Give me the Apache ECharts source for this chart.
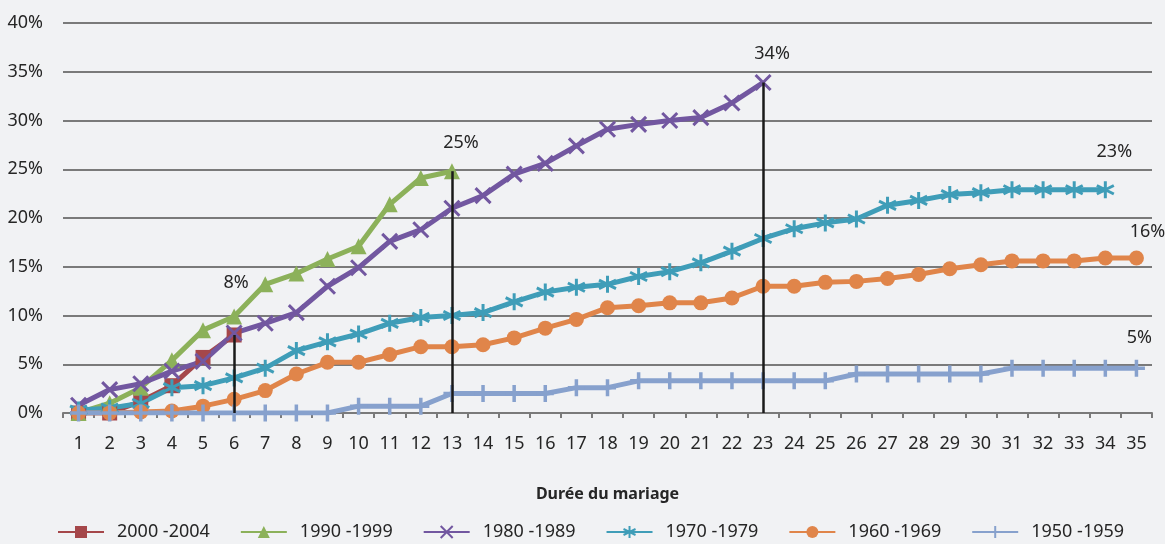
<!DOCTYPE html>
<html style="height: 100%">
<head>
<meta charset="utf-8">
</head>
<body style="height: 100%; margin: 0; background: #f1f2f4">
<div id="container" style="width: 1165px; height: 544px"></div>
<script src="https://cdn.jsdelivr.net/npm/echarts@6/dist/echarts.min.js"></script>
<script type="text/javascript">
// durée du mariage (années)
var durees = [];
for (var i = 1; i <= 35; i++) durees.push(String(i));

var names = ['2000 -2004', '1990 -1999', '1980 -1989', '1970 -1979', '1960 -1969', '1950 -1959'];

// % cumulés de divorces
var v2000 = [0, 0, 1.2, 2.8, 5.7, 8.0];
var v1990 = [0, 1.0, 2.6, 5.4, 8.5, 9.9, 13.2, 14.3, 15.8, 17.1, 21.4, 24.1, 24.8];
var v1980 = [0.8, 2.4, 3.0, 4.3, 5.3, 8.2, 9.2, 10.3, 13.0, 14.9, 17.6, 18.8, 21.0, 22.3, 24.5, 25.6,
  27.4, 29.1, 29.6, 30.0, 30.3, 31.8, 33.9];
var v1970 = [0.3, 0.5, 1.0, 2.6, 2.8, 3.6, 4.6, 6.4, 7.3, 8.1, 9.2, 9.8, 10.0, 10.3, 11.4, 12.4, 12.9,
  13.2, 14.0, 14.5, 15.4, 16.6, 17.9, 18.9, 19.5, 19.9, 21.3, 21.8, 22.4, 22.6, 22.9, 22.9, 22.9, 22.9];
var v1960 = [0, 0, 0.1, 0.2, 0.7, 1.4, 2.3, 4.0, 5.2, 5.2, 6.0, 6.8, 6.8, 7.0, 7.7, 8.7, 9.6, 10.8,
  11.0, 11.3, 11.3, 11.8, 13.0, 13.0, 13.4, 13.5, 13.8, 14.2, 14.8, 15.2, 15.6, 15.6, 15.6, 15.9, 15.9];
var v1950 = [0, 0, 0, 0, 0, 0, 0, 0, 0, 0.7, 0.7, 0.7, 2.0, 2.0, 2.0, 2.0, 2.6, 2.6, 3.3, 3.3, 3.3,
  3.3, 3.3, 3.3, 3.3, 4.0, 4.0, 4.0, 4.0, 4.0, 4.6, 4.6, 4.6, 4.6, 4.6];

// étiquettes de fin
var endLabels = ['8%', '25%', '34%', '23%', '16%', '5%'];

var colors = ['#a5474a', '#8cb15a', '#7257a0', '#3f9db8', '#e0854a', '#87a1cd'];

var dom = document.getElementById('container');
var myChart = echarts.init(dom);

var FONT = 'Noto Sans';

function withEnd(values, text, offset) {
  return values.map(function (v, i) {
    if (i !== values.length - 1) return v;
    return {
      value: v,
      label: {
        show: true, position: 'top', formatter: text, offset: offset,
        color: '#262626', fontSize: 18, fontFamily: FONT
      }
    };
  });
}

function dropLine(idx, val) {
  return {
    silent: true,
    symbol: 'none',
    label: { show: false },
    lineStyle: { color: '#1a1a1a', width: 2.5, type: 'solid' },
    data: [[{ coord: [idx, val] }, { coord: [idx, 0] }]]
  };
}

function mkSeries(k, values, symbol, size, offset, stroke, drop) {
  var s = {
    name: names[k],
    type: 'line',
    data: withEnd(values, endLabels[k], offset),
    symbol: symbol,
    symbolSize: size,
    showAllSymbol: true,
    color: colors[k],
    lineStyle: { width: 5, color: colors[k] },
    itemStyle: { color: colors[k] },
    animation: false
  };
  if (stroke) {
    s.itemStyle = { color: colors[k], borderColor: colors[k], borderWidth: stroke };
  }
  if (drop) s.markLine = dropLine(values.length - 1, values[values.length - 1]);
  return s;
}

var X_PATH = 'path://M0,0L10,10M10,0L0,10';
var STAR_PATH = 'path://M5,0L5,10M0.6,2.5L9.4,7.5M0.6,7.5L9.4,2.5';
var PLUS_PATH = 'path://M5,0L5,10M0,5L10,5';

var option = {
  backgroundColor: '#f1f2f4',
  textStyle: { fontFamily: FONT },
  grid: { left: 63, right: 13, top: 23, bottom: 131 },
  legend: {
    top: 518,
    left: 52,
    itemWidth: 46,
    itemHeight: 15,
    itemGap: 30,
    textStyle: { fontSize: 18, color: '#262626', fontFamily: FONT, padding: [0, 0, 0, 8] },
    data: names
  },
  xAxis: {
    type: 'category',
    data: durees,
    name: 'Durée du mariage',
    nameLocation: 'middle',
    nameGap: 73,
    nameTextStyle: { fontSize: 16, fontWeight: 'bold', color: '#262626', fontFamily: FONT },
    axisLine: { lineStyle: { color: '#7a7a7a', width: 2 } },
    axisTick: { show: true, length: 5, lineStyle: { color: '#7a7a7a', width: 2 } },
    axisLabel: { fontSize: 18, color: '#262626', margin: 22, fontFamily: FONT }
  },
  yAxis: {
    type: 'value',
    min: 0,
    max: 40,
    interval: 5,
    axisLine: { show: false },
    axisTick: { show: false },
    axisLabel: { formatter: '{value}%', fontSize: 18, color: '#262626', margin: 20, fontFamily: FONT },
    splitLine: { lineStyle: { color: '#7a7a7a', width: 2 } }
  },
  series: [
    mkSeries(0, v2000, 'rect', 15, [2, -31], 0, true),
    mkSeries(1, v1990, 'triangle', 16, [9, -6], 0, true),
    mkSeries(2, v1980, X_PATH, 15, [9, -6], 3, true),
    mkSeries(3, v1970, STAR_PATH, 17, [9, -14], 3, false),
    mkSeries(4, v1960, 'circle', 15, [11, -5], 0, false),
    mkSeries(5, v1950, PLUS_PATH, 17, [3, -6], 3.5, false)
  ]
};

myChart.setOption(option);
</script>
</body>
</html>
